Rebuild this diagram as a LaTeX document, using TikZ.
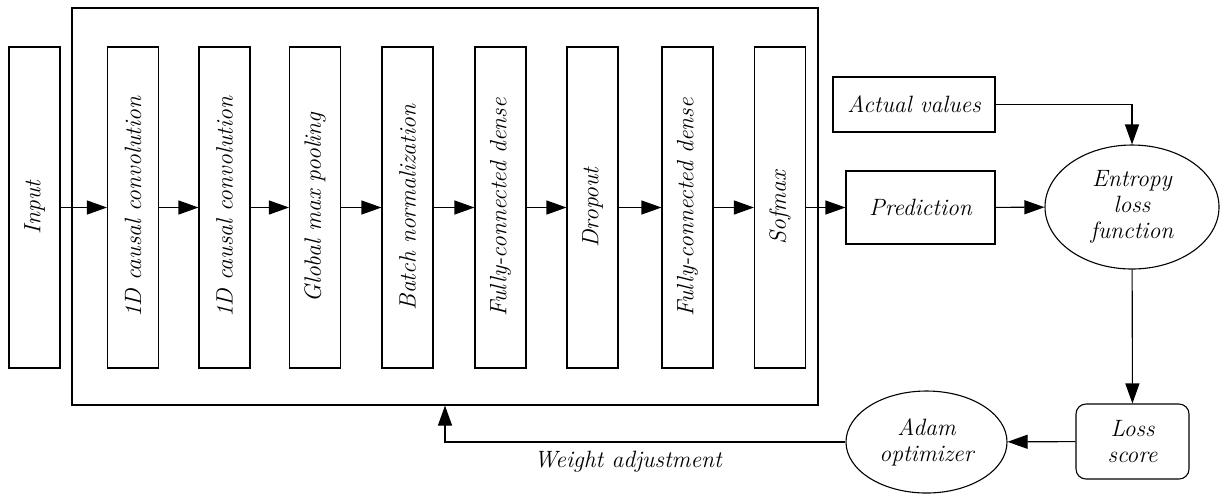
\documentclass[tikz,border=0pt]{standalone}
\usetikzlibrary{arrows.meta,shapes.geometric}
\begin{document}
\begin{tikzpicture}[x=0.5pt,y=-0.5pt,line width=0.55pt,
        >={Triangle[length=10pt,width=7pt]},
        every node/.style={font=\fontsize{11.8}{13}\selectfont\itshape,align=center},
        layer/.style={draw,rectangle,rotate=90,minimum width=160.5pt,minimum height=25.5pt,inner sep=0pt},
        box/.style={draw,rectangle,inner sep=0pt},
        oval/.style={draw,ellipse,inner sep=0pt}]
        \useasboundingbox (0,0) rectangle (1224,495);
        % network
        \node[box,minimum width=373pt,minimum height=198.5pt] (net) at (445,206.5) {};
        \node[layer] (in) at (34.5,207.5) {Input};
        \node[layer] (conv1) at (133,207.5) {1D causal convolution};
        \node[layer] (conv2) at (224.5,207.5) {1D causal convolution};
        \node[layer] (pool) at (315,207.5) {Global max pooling};
        \node[layer] (bn) at (407.5,207.5) {Batch normalization};
        \node[layer] (fc1) at (500.5,207.5) {Fully-connected dense};
        \node[layer] (drop) at (592.5,207.5) {Dropout};
        \node[layer] (fc2) at (687.5,207.5) {Fully-connected dense};
        \node[layer] (soft) at (780,207.5) {Sofmax};
        % training
        \node[box,minimum width=81pt,minimum height=27.5pt] (actual) at (914,104.5) {Actual values};
        \node[box,minimum width=74.5pt,minimum height=36.5pt] (pred) at (920.5,207.5) {Prediction};
        \node[oval,minimum width=87pt,minimum height=62pt] (loss) at (1132,207) {Entropy\\loss\\function};
        \node[box,rounded corners=5pt,minimum width=56.5pt,minimum height=37.5pt] (score) at (1132.5,441.5) {Loss\\score};
        \node[oval,minimum width=80.5pt,minimum height=51pt] (adam) at (926.5,442) {Adam\\optimizer};
        \foreach \a/\b in {in/conv1,conv1/conv2,conv2/pool,pool/bn,bn/fc1,fc1/drop,drop/fc2,fc2/soft,soft/pred,pred/loss}
            \draw[->] (\a) -- (\b);
        \draw[->] (actual.east) -| (loss.north);
        \draw[->] (loss) -- (score);
        \draw[->] (score) -- (adam);
        \draw[->] (adam.west) -| (net.south);
        \node (wadj) at (628,462) {Weight adjustment};
\end{tikzpicture}
\end{document}
